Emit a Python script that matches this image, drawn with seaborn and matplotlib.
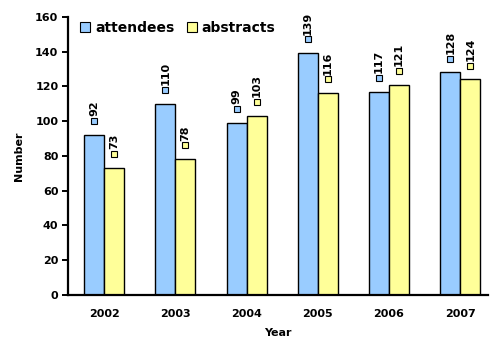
import matplotlib
matplotlib.use("Agg")
import matplotlib.pyplot as plt
from matplotlib.lines import Line2D
from matplotlib.transforms import offset_copy
import seaborn as sns
import pandas as pd

years = ["2002", "2003", "2004", "2005", "2006", "2007"]
attendees = [92, 110, 99, 139, 117, 128]
abstracts = [73, 78, 103, 116, 121, 124]
series_names = ["attendees", "abstracts"]
colors = ["#99CCFF", "#FFFF99"]

df = pd.DataFrame({
    "Year": years * 2,
    "Number": attendees + abstracts,
    "Series": [series_names[0]] * len(years) + [series_names[1]] * len(years),
})

sns.set_style("white")
plt.rcParams["font.family"] = ["DejaVu Sans"]
plt.rcParams["font.weight"] = "bold"
plt.rcParams["text.color"] = "black"
plt.rcParams["axes.labelcolor"] = "black"
plt.rcParams["xtick.color"] = "black"
plt.rcParams["ytick.color"] = "black"

fig = plt.figure(figsize=(4.9, 3.37), dpi=100)
ax = fig.add_axes([0.139, 0.125, 0.857, 0.825])

sns.barplot(data=df, x="Year", y="Number", hue="Series", palette=colors,
            width=0.56, edgecolor="black", linewidth=1.0, saturation=1,
            ax=ax)
ax.legend_.remove()

ax.set_ylim(0, 160)
ax.set_xlim(-0.506, 5.39)
ax.set_yticks(range(0, 161, 20))

for s in ["top", "right"]:
    ax.spines[s].set_visible(False)
for s in ["left", "bottom"]:
    ax.spines[s].set_color("black")
    ax.spines[s].set_linewidth(1.6)

ax.tick_params(axis="y", direction="out", length=4, width=1.4, color="black",
               labelsize=8, pad=3, left=True, labelcolor="black")
ax.tick_params(axis="x", length=0, labelsize=8, pad=10, labelcolor="black")
for lbl in ax.get_xticklabels() + ax.get_yticklabels():
    lbl.set_fontweight("bold")

ax.set_xlabel("Year", fontsize=8, fontweight="bold", labelpad=7, color="black")
ax.set_ylabel("Number", fontsize=8, fontweight="bold", labelpad=8, color="black")

# value labels: small colour key square plus rotated number above each bar
marker_tr = offset_copy(ax.transData, fig=fig, x=0, y=10, units="points")
text_tr = offset_copy(ax.transData, fig=fig, x=0, y=13.5, units="points")
for container, vals, col in zip(ax.containers, [attendees, abstracts], colors):
    for bar, v in zip(container, vals):
        cx = bar.get_x() + bar.get_width() / 2
        ax.plot(cx, v, marker="s", markersize=4.2, markerfacecolor=col,
                markeredgecolor="black", markeredgewidth=0.8,
                transform=marker_tr, clip_on=False)
        ax.text(cx, v, str(v), rotation=90, ha="center", va="bottom",
                fontsize=8, fontweight="bold", color="black",
                transform=text_tr)

handles = [Line2D([], [], linestyle="none", marker="s", markersize=6.5,
                  markerfacecolor=c, markeredgecolor="black",
                  markeredgewidth=0.8) for c in colors]
ax.legend(handles, series_names, loc="upper left", bbox_to_anchor=(0.0, 1.03),
          ncol=2, frameon=False, handlelength=0.7, handletextpad=0.35,
          columnspacing=0.9, prop={"size": 10, "weight": "bold"},
          labelcolor="black")

fig.savefig("out.png", dpi=100)
